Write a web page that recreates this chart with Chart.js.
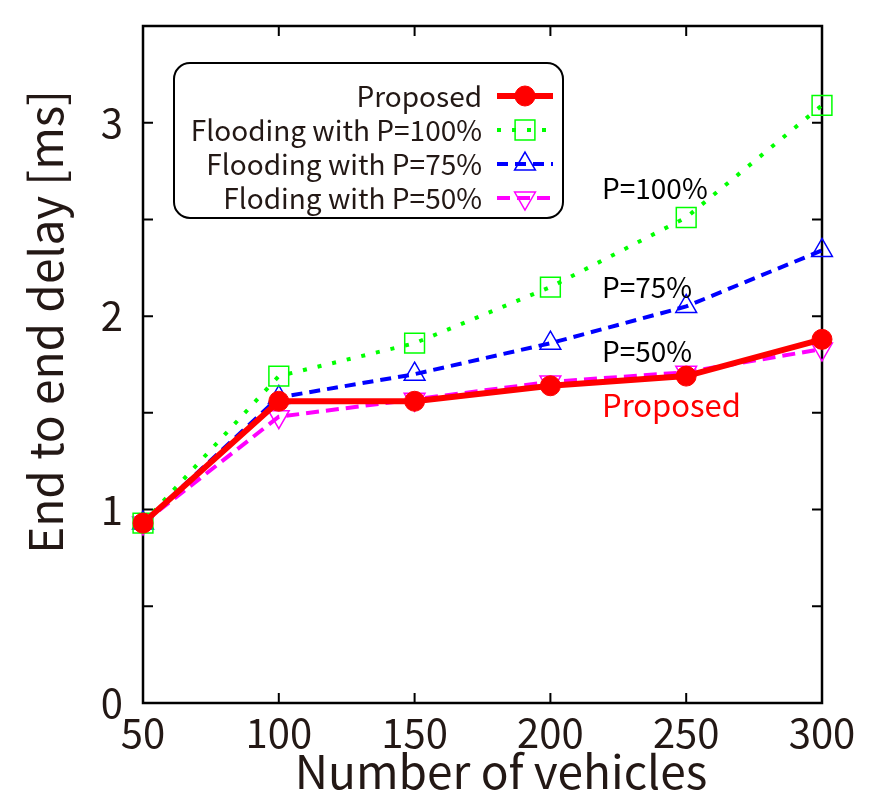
<!DOCTYPE html>
<html>
<head>
<meta charset="utf-8">
<script src="https://cdn.jsdelivr.net/npm/chart.js@4/dist/chart.umd.min.js"></script>
<style>
  body { margin: 0; background: #fff; }
  #wrap { width: 881px; height: 799px; }
</style>
</head>
<body>
<div id="wrap"><canvas id="chart"></canvas></div>
<script>
// values
const vehicles = [50, 100, 150, 200, 250, 300];
const proposed = [0.93, 1.56, 1.56, 1.64, 1.69, 1.88];
const flood100 = [0.93, 1.69, 1.86, 2.15, 2.51, 3.09];
const flood75  = [0.93, 1.58, 1.70, 1.86, 2.05, 2.34];
const flood50  = [0.93, 1.48, 1.57, 1.66, 1.71, 1.83];
const seriesNames = ['Proposed', 'Flooding with P=100%', 'Flooding with P=75%', 'Floding with P=50%'];
const yTickLabels = ['0', '1', '2', '3'];
const xTitle = 'Number of vehicles';
const yTitle = 'End to end delay [ms]';

// text notes next to the curves (x in vehicles, y in ms)
const notes = [
  { text: 'P=100%', x: 219, y: 2.66, color: '#000000', size: 28 },
  { text: 'P=75%', x: 219, y: 2.15, color: '#000000', size: 28 },
  { text: 'P=50%', x: 219, y: 1.82, color: '#000000', size: 28 },
  { text: 'Proposed', x: 219, y: 1.54, color: '#ff0000', size: 31 }
];

const FONT = '"Noto Sans CJK JP", "Noto Sans", sans-serif';
const TEXT = '#231815';

const toPoints = (arr) => vehicles.map((v, i) => ({ x: v, y: arr[i] }));

const framePlugin = {
  id: 'frame',
  beforeDatasetsDraw(chart) {
    const ctx = chart.ctx;
    const a = chart.chartArea;
    const xs = chart.scales.x;
    const ys = chart.scales.y;
    ctx.save();
    ctx.strokeStyle = '#000';
    ctx.lineWidth = 2.5;
    ctx.strokeRect(a.left, a.top, a.right - a.left, a.bottom - a.top);
    ctx.lineWidth = 2;
    ctx.beginPath();
    xs.ticks.forEach(t => {
      const px = xs.getPixelForValue(t.value);
      ctx.moveTo(px, a.bottom); ctx.lineTo(px, a.bottom - 10);
      ctx.moveTo(px, a.top); ctx.lineTo(px, a.top + 10);
    });
    ys.ticks.forEach(t => {
      const py = ys.getPixelForValue(t.value);
      ctx.moveTo(a.left, py); ctx.lineTo(a.left + 10, py);
      ctx.moveTo(a.right, py); ctx.lineTo(a.right - 10, py);
    });
    ctx.stroke();

    // axis titles
    ctx.fillStyle = TEXT;
    ctx.font = '46px ' + FONT;
    ctx.textAlign = 'center';
    ctx.textBaseline = 'middle';
    ctx.fillText(xTitle, 501, 772);
    ctx.translate(46, 322);
    ctx.rotate(-Math.PI / 2);
    ctx.fillText(yTitle, 0, 0);
    ctx.restore();
  },
  afterDraw(chart) {
    const ctx = chart.ctx;
    const xs = chart.scales.x;
    const ys = chart.scales.y;
    ctx.save();
    // notes
    ctx.textBaseline = 'middle';
    ctx.textAlign = 'left';
    notes.forEach(n => {
      ctx.font = n.size + 'px ' + FONT;
      ctx.fillStyle = n.color;
      ctx.fillText(n.text, xs.getPixelForValue(n.x), ys.getPixelForValue(n.y));
    });

    // legend box
    const bx = 174, by = 63, bw = 389, bh = 155, r = 16;
    ctx.beginPath();
    ctx.roundRect(bx, by, bw, bh, r);
    ctx.fillStyle = '#fff';
    ctx.fill();
    ctx.lineWidth = 2;
    ctx.strokeStyle = '#000';
    ctx.stroke();

    ctx.font = '28px ' + FONT;
    ctx.textAlign = 'right';
    chart.data.datasets.forEach((ds, i) => {
      const rowY = 96 + i * 34;
      ctx.fillStyle = TEXT;
      ctx.fillText(ds.label, 482, rowY);
      ctx.save();
      ctx.strokeStyle = ds.borderColor;
      ctx.lineWidth = ds.borderWidth;
      ctx.setLineDash(ds.borderDash || []);
      ctx.beginPath();
      ctx.moveTo(497, rowY);
      ctx.lineTo(553, rowY);
      ctx.stroke();
      ctx.setLineDash([]);
      ctx.fillStyle = ds.pointBackgroundColor;
      ctx.strokeStyle = ds.pointBorderColor;
      ctx.lineWidth = ds.pointBorderWidth;
      Chart.helpers.drawPoint(ctx, {
        pointStyle: ds.pointStyle,
        radius: ds.pointRadius,
        borderWidth: ds.pointBorderWidth,
        rotation: ds.pointRotation || 0
      }, 525, rowY);
      ctx.restore();
    });
    ctx.restore();
  }
};

new Chart(document.getElementById('chart'), {
  type: 'line',
  data: {
    datasets: [
      {
        label: seriesNames[0],
        data: toPoints(proposed),
        borderColor: '#ff0000',
        borderWidth: 6,
        pointStyle: 'circle',
        pointRadius: 10,
        pointBackgroundColor: '#ff0000',
        pointBorderColor: '#ff0000',
        pointBorderWidth: 1
      },
      {
        label: seriesNames[1],
        data: toPoints(flood100),
        borderColor: '#00ff00',
        borderWidth: 4,
        borderDash: [4, 11],
        pointStyle: 'rect',
        pointRadius: 14,
        pointBackgroundColor: 'rgba(0,0,0,0)',
        pointBorderColor: '#00ff00',
        pointBorderWidth: 1.5
      },
      {
        label: seriesNames[2],
        data: toPoints(flood75),
        borderColor: '#0000ff',
        borderWidth: 4,
        borderDash: [11, 7],
        pointStyle: 'triangle',
        pointRadius: 12,
        pointBackgroundColor: 'rgba(0,0,0,0)',
        pointBorderColor: '#0000ff',
        pointBorderWidth: 1.5
      },
      {
        label: seriesNames[3],
        data: toPoints(flood50),
        borderColor: '#ff00ff',
        borderWidth: 4,
        borderDash: [13, 7],
        pointStyle: 'triangle',
        pointRotation: 180,
        pointRadius: 12,
        pointBackgroundColor: 'rgba(0,0,0,0)',
        pointBorderColor: '#ff00ff',
        pointBorderWidth: 1.5
      }
    ]
  },
  options: {
    responsive: true,
    maintainAspectRatio: false,
    animation: false,
    clip: false,
    layout: { padding: { top: 26, right: 59, left: 0, bottom: 0 } },
    plugins: {
      legend: { display: false },
      tooltip: { enabled: false }
    },
    scales: {
      x: {
        type: 'linear',
        min: 50,
        max: 300,
        ticks: {
          stepSize: 50,
          padding: 6,
          color: TEXT,
          font: { family: FONT, size: 40 }
        },
        grid: { display: false, drawTicks: false },
        border: { display: false },
        afterFit: (s) => { s.height = 96; s.paddingLeft = 0; s.paddingRight = 0; }
      },
      y: {
        min: 0,
        max: 3.5,
        ticks: {
          stepSize: 0.5,
          padding: 20,
          color: TEXT,
          font: { family: FONT, size: 40 },
          callback: (v) => Number.isInteger(v) ? yTickLabels[v] : ''
        },
        grid: { display: false, drawTicks: false },
        border: { display: false },
        afterFit: (s) => { s.width = 143; s.paddingTop = 0; s.paddingBottom = 0; }
      }
    }
  },
  plugins: [framePlugin]
});
</script>
</body>
</html>
